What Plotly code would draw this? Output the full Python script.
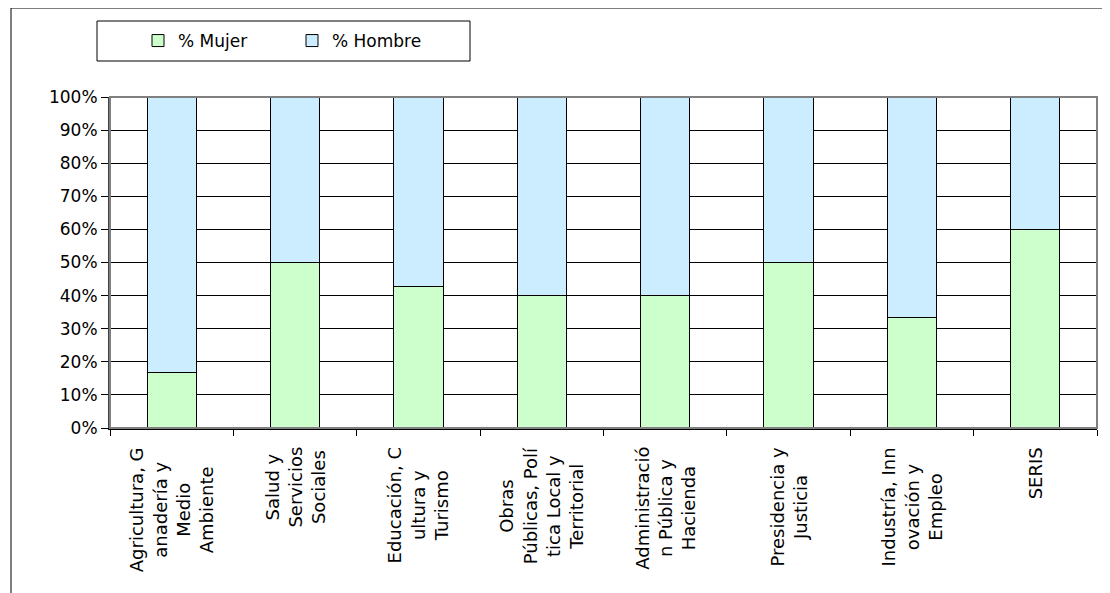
import plotly.graph_objects as go

categories = ["Agricultura", "Salud", "Educacion", "Obras", "Administracion",
              "Presidencia", "Industria", "SERIS"]
category_labels = [
    "Agricultura, G<br>anadería y<br>Medio<br>Ambiente",
    "Salud y<br>Servicios<br>Sociales",
    "Educación, C<br>ultura y<br>Turismo",
    "Obras<br>Públicas, Polí<br>tica Local y<br>Territorial",
    "Administració<br>n Pública y<br>Hacienda",
    "Presidencia y<br>Justicia",
    "Industría, Inn<br>ovación y<br>Empleo",
    "SERIS",
]
mujer = [16.7, 50.0, 42.9, 40.0, 40.0, 50.0, 33.3, 60.0]
hombre = [83.3, 50.0, 57.1, 60.0, 60.0, 50.0, 66.7, 40.0]
y_ticks = list(range(0, 101, 10))
y_tick_text = [f"{v}%" for v in y_ticks]

FONT = "DejaVu Sans"
OFF = 8  # page body margin
W, H = 1110 - OFF, 593 - OFF
# plot area in page pixels: x 110..1097, y 97..428
ML = 110 - OFF
MT = 97 - OFF
MR = 1110 - 1097
MB = 593 - 428
PW = W - ML - MR
PH = H - MT - MB

def px_x(p):
    return (p - OFF - ML) / PW

def px_y(p):
    return (H - MB - (p - OFF)) / PH

fig = go.Figure()
fig.add_trace(go.Bar(
    x=categories, y=mujer, name="% Mujer",
    marker=dict(color="#CCFFCC", line=dict(color="black", width=1)),
    legend="legend",
))
fig.add_trace(go.Bar(
    x=categories, y=hombre, name="% Hombre",
    marker=dict(color="#CCECFF", line=dict(color="black", width=1)),
    legend="legend2",
))

annotations = []
for c, lab in zip(categories, category_labels):
    annotations.append(dict(
        x=c, xref="x", y=0, yref="paper", yshift=-17,
        text=lab, showarrow=False, textangle=-90, align="center",
        xanchor="center", yanchor="top",
        font=dict(family=FONT, size=18, color="black"),
    ))

shapes = [
    # outer chart border (left and top)
    dict(type="line", xref="paper", yref="paper",
         x0=px_x(11), x1=px_x(11), y0=px_y(8), y1=px_y(600),
         line=dict(color="black", width=1)),
    dict(type="line", xref="paper", yref="paper",
         x0=px_x(11), x1=px_x(1115), y0=px_y(8), y1=px_y(8),
         line=dict(color="black", width=1)),
    # plot area border (gray)
    dict(type="rect", xref="paper", yref="paper",
         x0=0, x1=1, y0=0, y1=1, layer="above",
         line=dict(color="#808080", width=2)),
    # legend box
    dict(type="rect", xref="paper", yref="paper",
         x0=px_x(97), x1=px_x(470), y0=px_y(61), y1=px_y(21),
         line=dict(color="black", width=1)),
]

fig.update_layout(
    width=W, height=H,
    margin=dict(l=ML, r=MR, t=MT, b=MB),
    paper_bgcolor="white", plot_bgcolor="white",
    barmode="stack", bargap=0.6,
    font=dict(family=FONT, size=17, color="black"),
    showlegend=True,
    legend=dict(x=px_x(138), y=px_y(41), xanchor="left", yanchor="middle",
                orientation="h", bgcolor="rgba(0,0,0,0)",
                font=dict(family=FONT, size=17), itemwidth=30),
    legend2=dict(x=px_x(292), y=px_y(41), xanchor="left", yanchor="middle",
                 orientation="h", bgcolor="rgba(0,0,0,0)",
                 font=dict(family=FONT, size=17), itemwidth=30),
    annotations=annotations,
    shapes=shapes,
)
fig.update_xaxes(
    type="category", showticklabels=False, tickson="boundaries",
    ticks="outside", ticklen=6, tickcolor="black",
    showline=True, linecolor="black", linewidth=2,
    showgrid=False, zeroline=False,
)
fig.update_yaxes(
    range=[0, 100], tickmode="array", tickvals=y_ticks, ticktext=y_tick_text,
    ticks="outside", ticklen=7, tickcolor="black",
    showline=True, linecolor="#404040", linewidth=2,
    showgrid=True, gridcolor="black", gridwidth=1,
    zeroline=False,
    tickfont=dict(family=FONT, size=17, color="black"),
)

fig.write_html("out.html")
